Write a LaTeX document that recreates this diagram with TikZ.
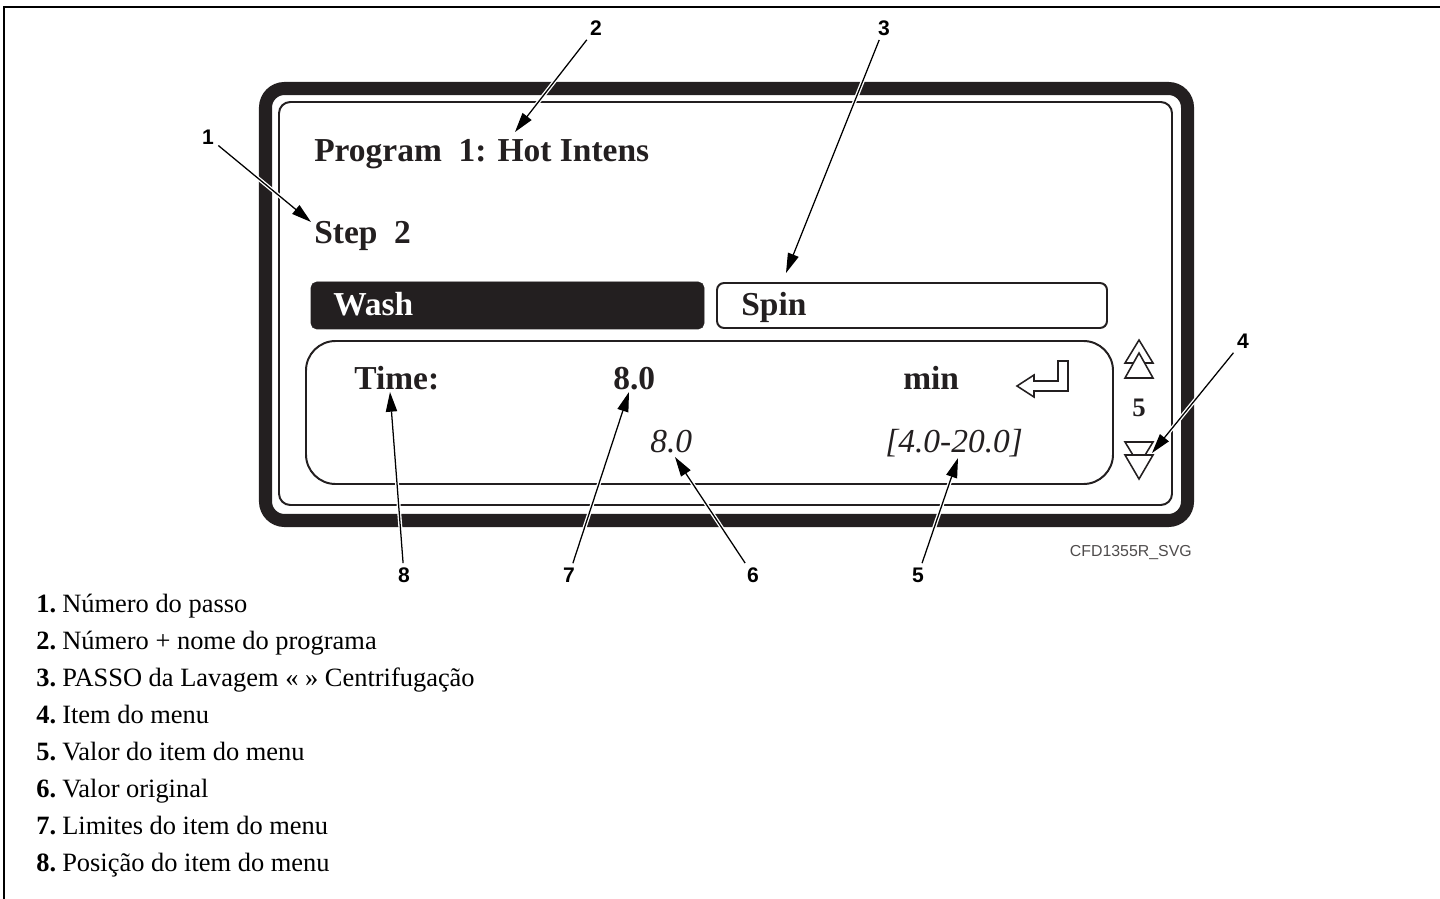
\documentclass[tikz,border=0pt]{standalone}
\usepackage{fontspec}
\setmainfont{Liberation Serif}
\newfontfamily\richiamofont{Liberation Sans}
\usetikzlibrary{arrows.meta,%
		calc,%
		positioning}
\definecolor{inchiostro}{RGB}{35,31,32}
\tikzset{
	richiamo/.style={font=\richiamofont\bfseries\fontsize{15}{18}\selectfont, inner sep=3pt},
	lcd/.style={font=\bfseries\fontsize{23.8}{28}\selectfont, text=inchiostro, anchor=base west, inner sep=0pt},
	lcdit/.style={font=\itshape\fontsize{23.8}{28}\selectfont, text=inchiostro, anchor=base west, inner sep=0pt},
	freccia/.style={draw=black, line width=0.9pt, -{Triangle[length=14pt,width=8pt]},
		preaction={draw=white, line width=2.8pt, -, shorten >=7pt}},
	tri/.style={fill=white, draw=inchiostro, line width=1.1pt},
	voce/.style={font=\fontsize{18.8}{22}\selectfont, anchor=base west, inner sep=0pt},
	numvoce/.style={font=\bfseries\fontsize{18.8}{22}\selectfont, anchor=base west, inner sep=0pt}
}
\begin{document}
\begin{tikzpicture}[x={(0.025cm,0)},y={(0,-0.025cm)}]
\useasboundingbox (0,0) rectangle (1440,899);
%cornice
\draw[line width=2.1pt] (4,899) -- (4,7) -- (1440,7);
%display
\draw[draw=inchiostro, line width=9.25pt, rounded corners=13.5pt] (265.5,88.5) rectangle (1187.5,520.5);
\draw[draw=inchiostro, line width=1.4pt, rounded corners=8pt] (279,102) rectangle (1172,505);
\draw[fill=inchiostro, draw=inchiostro, rounded corners=4pt] (311,282) rectangle (704,329);
\draw[draw=inchiostro, line width=1.4pt, rounded corners=5pt] (717,283) rectangle (1107,328);
\draw[draw=inchiostro, line width=1.4pt, rounded corners=21pt] (306,341) rectangle (1113,484);
%invio
\draw[draw=inchiostro, line width=1.1pt] (1017,386) -- (1034,375) -- (1034,381) -- (1058,381)
	-- (1058,361) -- (1068,361) -- (1068,391) -- (1034,391) -- (1034,397) -- cycle;
%frecce su/giu
\draw[tri] (1139,340) -- (1153,363) -- (1125,363) -- cycle;
\draw[tri] (1139,353) -- (1153,378) -- (1125,378) -- cycle;
\draw[tri] (1125,442) -- (1153,442) -- (1139,465) -- cycle;
\draw[tri] (1125,455) -- (1153,455) -- (1139,479) -- cycle;
%richiami
\node[richiamo] (c1) at (208,137) {1};
\node[richiamo] (c2) at (596,28) {2};
\node[richiamo] (c3) at (884,28) {3};
\node[richiamo] (c4) at (1243,341) {4};
\node[richiamo] (c5) at (918,575) {5};
\node[richiamo] (c6) at (753,575) {6};
\node[richiamo] (c7) at (569,575) {7};
\node[richiamo] (c8) at (404,575) {8};
\coordinate (t1) at (311,222);
\coordinate (t2) at (515,132);
\coordinate (t3) at (786,273);
\coordinate (t4) at (1152,453);
\coordinate (t5) at (958,458);
\coordinate (t6) at (675,457);
\coordinate (t7) at (629,392);
\coordinate (t8) at (390,392);
\foreach \k in {1,...,8}
	\draw[freccia] (c\k) -- (t\k);
%testi
\node[lcd] (prog) at (314,162) {Program\ \ 1: Hot Intens};
\node[lcd] (passo) at (314,244) {Step\ \ 2};
\node[lcd, text=white] (wash) at (333,316) {Wash};
\node[lcd] (spin) at (741,316) {Spin};
\node[lcd] (time) at (354,389) {Time:};
\node[lcd] (val) at (613,389) {8.0};
\node[lcd] (unit) at (903,389) {min};
\node[lcdit] (orig) at (650,452) {8.0};
\node[lcdit] (lim) at (885,452) {[4.0-20.0]};
\node[font=\bfseries\fontsize{19}{22}\selectfont, text=inchiostro, inner sep=0pt] (pos) at (1139,408) {5};
\node[font=\richiamofont\fontsize{11.3}{13}\selectfont, text=inchiostro!80, anchor=base east, inner sep=0pt] (cod) at (1192,556) {CFD1355R\_SVG};
%legenda
\foreach \n/\testo in {1/Número do passo,2/Número + nome do programa,3/PASSO da Lavagem « » Centrifugação,4/Item do menu,5/Valor do item do menu,6/Valor original,7/Limites do item do menu,8/Posição do item do menu}{
	\node[numvoce] (n\n) at (36,{575+37*\n}) {\n.};
	\node[voce] (v\n) at (62,{575+37*\n}) {\testo};
}
\end{tikzpicture}
\end{document}
